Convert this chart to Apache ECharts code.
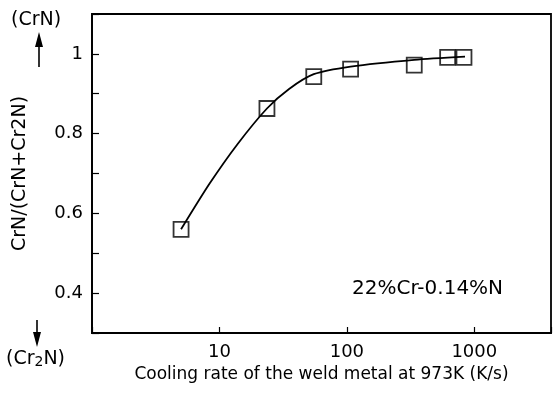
<!DOCTYPE html>
<html>
<head>
<meta charset="utf-8">
<script src="https://cdn.jsdelivr.net/npm/echarts@6/dist/echarts.min.js"></script>
<style>
  html, body { margin: 0; padding: 0; background: #fff; }
  #chart { width: 554px; height: 400px; }
</style>
</head>
<body>
<div id="chart"></div>
<script>
// measured points (cooling rate K/s, CrN fraction)
var rates = [5, 23.6, 55, 107, 338, 618, 830];
var fractions = [0.56, 0.863, 0.943, 0.962, 0.972, 0.991, 0.991];
// hand drawn fitting curve
var curveRates = [5, 8.35, 13.9, 23.6, 35.2, 55, 107, 338, 846];
var curveFractions = [0.56, 0.674, 0.774, 0.863, 0.912, 0.949, 0.968, 0.985, 0.993];
var xLabels = [10, 100, 1000];
var yLabels = [0.4, 0.6, 0.8, 1];

var font = 'DejaVu Sans';
var ink = '#000';
var myChart = echarts.init(document.getElementById('chart'));

function zip(a, b) {
  var out = [];
  for (var i = 0; i < a.length; i++) out.push([a[i], b[i]]);
  return out;
}

myChart.setOption({
  animation: false,
  grid: {
    left: 92, top: 14, right: 1, bottom: 67,
    show: true, borderColor: ink, borderWidth: 1.8
  },
  xAxis: {
    type: 'log',
    logBase: 10,
    min: 1,
    max: 4000,
    name: 'Cooling rate of the weld metal at 973K (K/s)',
    nameLocation: 'middle',
    nameGap: 29,
    nameTextStyle: { fontFamily: font, fontSize: 17, color: ink },
    axisLine: { lineStyle: { color: ink, width: 1.8 } },
    axisTick: { inside: true, length: 6, lineStyle: { color: ink, width: 1.2 } },
    splitLine: { show: false },
    minorTick: { show: false },
    axisLabel: {
      margin: 10,
      fontFamily: font, fontSize: 18, color: ink,
      formatter: function (v) {
        for (var i = 0; i < xLabels.length; i++) {
          if (Math.abs(v - xLabels[i]) < 1e-6 * xLabels[i]) return String(xLabels[i]);
        }
        return '';
      }
    }
  },
  yAxis: {
    type: 'value',
    min: 0.3,
    max: 1.1,
    interval: 0.1,
    name: 'CrN/(CrN+Cr2N)',
    nameLocation: 'middle',
    nameGap: 62,
    nameTextStyle: { fontFamily: font, fontSize: 19, color: ink },
    axisLine: { show: true, lineStyle: { color: ink, width: 1.8 } },
    axisTick: { inside: true, length: 7, lineStyle: { color: ink, width: 1.2 } },
    splitLine: { show: false },
    axisLabel: {
      margin: 9,
      fontFamily: font, fontSize: 18, color: ink,
      formatter: function (v) {
        for (var i = 0; i < yLabels.length; i++) {
          if (Math.abs(v - yLabels[i]) < 1e-6) return String(yLabels[i]);
        }
        return '';
      }
    }
  },
  series: [
    {
      type: 'line',
      data: zip(curveRates, curveFractions),
      smooth: 0.25,
      showSymbol: false,
      lineStyle: { color: ink, width: 1.8 },
      silent: true
    },
    {
      type: 'scatter',
      data: zip(rates, fractions),
      symbol: 'rect',
      symbolSize: 15,
      itemStyle: { color: 'rgba(0,0,0,0)', borderColor: ink, borderWidth: 1.8 },
      z: 3
    }
  ],
  graphic: [
    {
      type: 'text', left: 11, top: 11,
      style: { text: '(CrN)', fontFamily: font, fontSize: 19, fill: ink }
    },
    {
      type: 'line',
      shape: { x1: 39, y1: 44, x2: 39, y2: 67 },
      style: { stroke: ink, lineWidth: 1.6 }
    },
    {
      type: 'polygon',
      shape: { points: [[39, 32], [35, 47], [43, 47]] },
      style: { fill: ink }
    },
    {
      type: 'line',
      shape: { x1: 37, y1: 320, x2: 37, y2: 336 },
      style: { stroke: ink, lineWidth: 1.6 }
    },
    {
      type: 'polygon',
      shape: { points: [[37, 347], [33, 332], [41, 332]] },
      style: { fill: ink }
    },
    {
      type: 'text', left: 6, top: 350,
      style: {
        text: '{a|(Cr}{b|2}{a|N)}',
        rich: {
          a: { fontFamily: font, fontSize: 19, fill: ink },
          b: { fontFamily: font, fontSize: 14, fill: ink, verticalAlign: 'bottom' }
        }
      }
    },
    {
      type: 'text', left: 352, top: 279,
      style: { text: '22%Cr-0.14%N', fontFamily: font, fontSize: 20, fill: ink }
    }
  ]
});
</script>
</body>
</html>
